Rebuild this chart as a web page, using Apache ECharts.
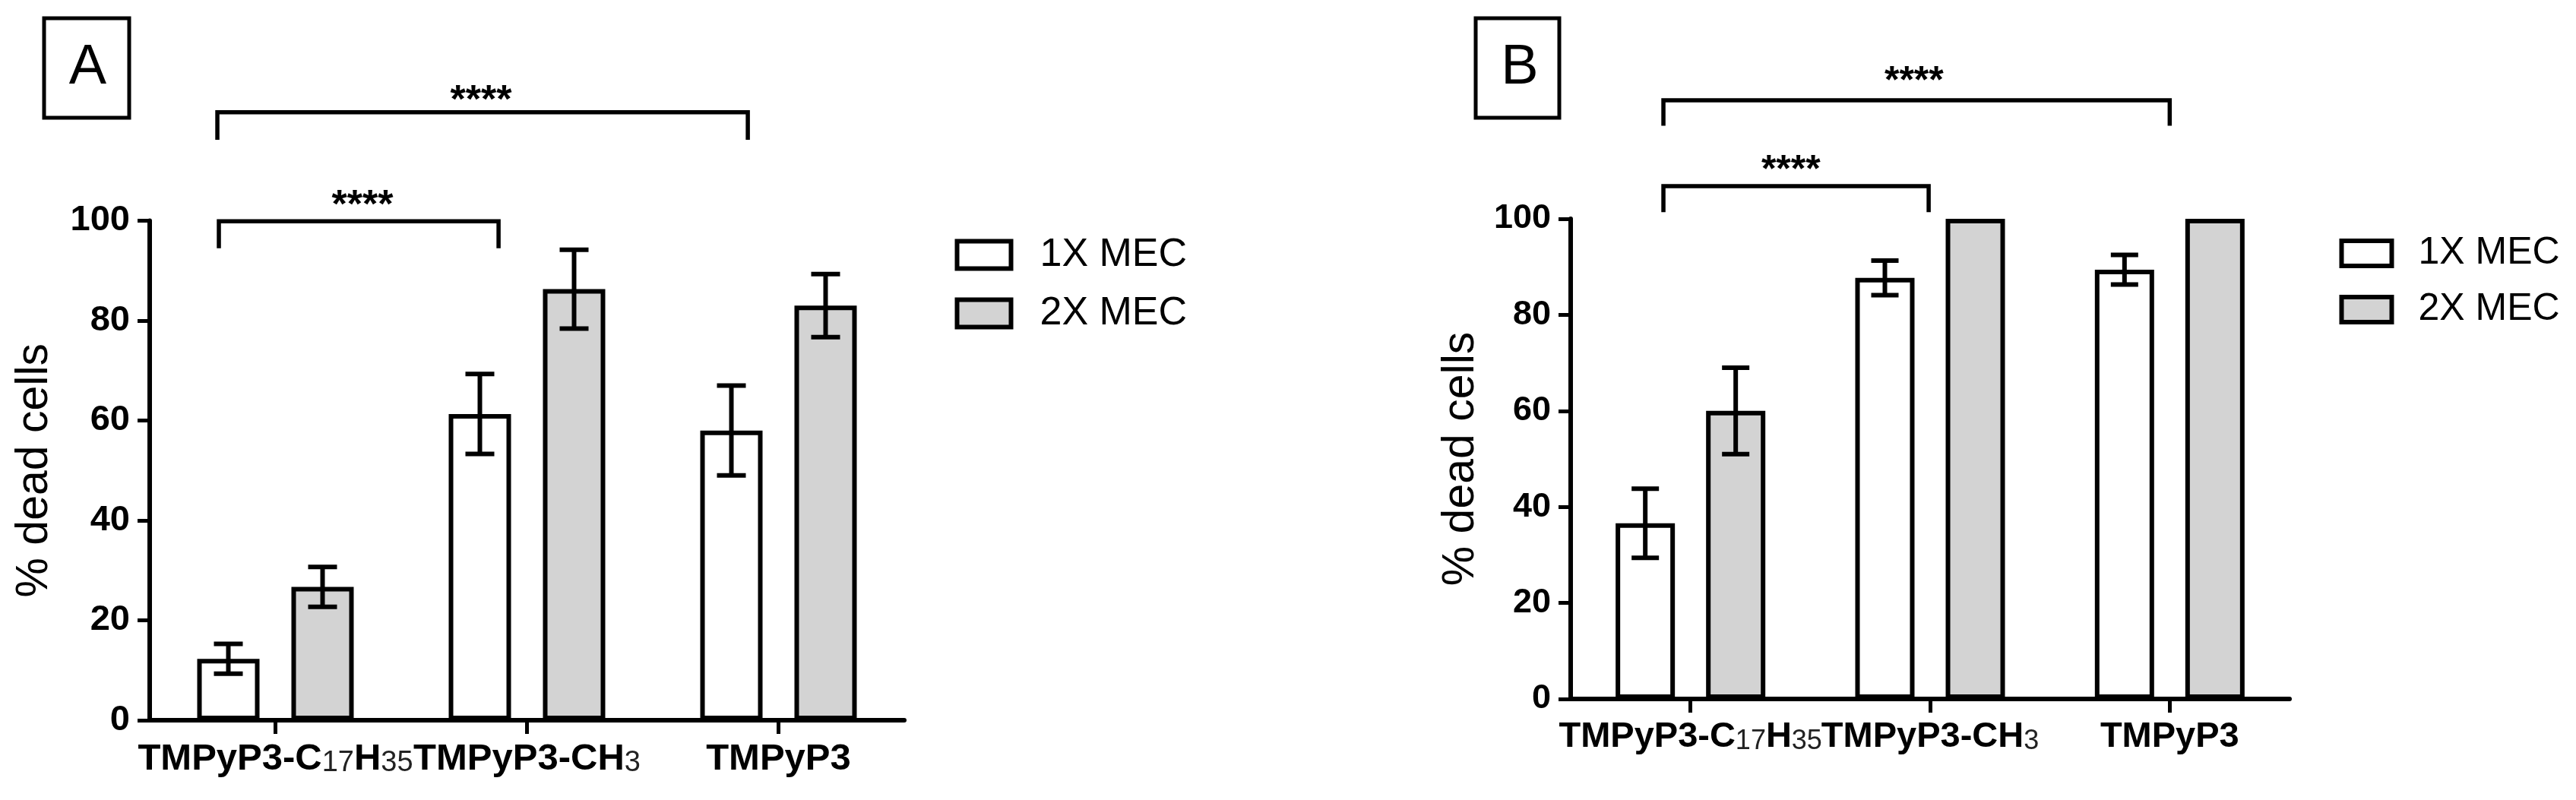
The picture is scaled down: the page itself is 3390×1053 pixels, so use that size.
<!DOCTYPE html>
<html><head><meta charset="utf-8">
<script src="https://cdn.jsdelivr.net/npm/echarts@6/dist/echarts.min.js"></script>
<style>html,body{margin:0;padding:0;background:#fff}#c{width:3390px;height:1053px}</style>
</head><body><div id="c"></div>
<script>
// ---------- data ----------
const categories = ['TMPyP3-C17H35', 'TMPyP3-CH3', 'TMPyP3'];
const seriesNames = ['1X MEC', '2X MEC'];
const yTicks = [0, 20, 40, 60, 80, 100];
const yAxisTitle = '% dead cells';
const panelLetters = ['A', 'B'];
// panel A
const a1X = [12.3, 61.3, 58.0];
const a1Xerr = [3.0, 8.0, 9.0];
const a2X = [26.7, 86.3, 83.0];
const a2Xerr = [4.0, 7.9, 6.3];
// panel B
const b1X = [36.6, 87.7, 89.4];
const b1Xerr = [7.2, 3.6, 3.1];
const b2X = [60.0, 100, 100];
const b2Xerr = [9.0, 0, 0];
// significance brackets: [x start, x end (category units), bar level, leg end]
const aBrackets = [[-0.225, 0.887, 99.9, 94.5], [-0.231, 1.878, 121.7, 116.2]];
const aStars = [[0.346, 104.6, '****'], [0.817, 125.6, '****']];
const bBrackets = [[-0.113, 0.994, 106.8, 101.4], [-0.113, 2.0, 124.7, 119.4]];
const bStars = [[0.419, 111.7, '****'], [0.933, 130.2, '****']];

// ---------- style ----------
const FONT = "'Liberation Sans', Arial, Helvetica, sans-serif";
const NARROW = "'Liberation Sans Narrow', 'Liberation Sans', Arial, sans-serif";
const GRAY = '#d3d3d3';
const LW = 6;
const P = [
  { grid: { left: 197, top: 290.5, width: 993, height: 657.5 }, bw: 82, gap: 42, cap: 38,
    tickFont: 47, labFont: 49, subFont: 38, titleFont: 59, nameGap: 122, starFont: 52,
    legend: { left: 1256.5, top: 309.5, w: 71, h: 36, font: 52, gap: 25, pad: 33 },
    box: { x: 58, y: 24, w: 112, h: 131, cx: 115.5, cy: 90 } },
  { grid: { left: 2067, top: 288, width: 946, height: 632 }, bw: 78, gap: 41, cap: 36,
    tickFont: 45, labFont: 47, subFont: 36, titleFont: 59, nameGap: 115, starFont: 50,
    legend: { left: 3078.5, top: 308.5, w: 66, h: 33, font: 50, gap: 24, pad: 30 },
    box: { x: 1942, y: 24, w: 110, h: 131, cx: 2000, cy: 90 } }
];

function fmtCat(v) {
  let s = '{b|' + v.replace(/([CH])(\d+)/g, '$1}{s|$2}{b|') + '}';
  return s.replace(/\{b\|\}/g, '');
}

const xAxes = [], yAxes = [], grids = [], series = [], legends = [], graphics = [];
const panels = [
  { m1: a1X, e1: a1Xerr, m2: a2X, e2: a2Xerr, br: aBrackets, st: aStars },
  { m1: b1X, e1: b1Xerr, m2: b2X, e2: b2Xerr, br: bBrackets, st: bStars }
];

panels.forEach((pd, k) => {
  const p = P[k];
  grids.push(Object.assign({ outerBoundsMode: 'none', containLabel: false }, p.grid));
  const cx = xAxes.length;
  xAxes.push({
    gridIndex: k, type: 'category', data: categories,
    axisLine: { show: true, onZero: false, lineStyle: { color: '#000', width: LW } },
    axisTick: { show: true, alignWithLabel: true, length: 18, lineStyle: { color: '#000', width: 5 } },
    axisLabel: {
      interval: 0, hideOverlap: false, margin: 27, formatter: fmtCat,
      rich: {
        b: { fontSize: p.labFont, fontWeight: 'bold', fontFamily: FONT, color: '#000', verticalAlign: 'bottom' },
        s: { fontSize: p.subFont, fontWeight: 'normal', fontFamily: NARROW, color: '#222', verticalAlign: 'bottom' }
      }
    },
    splitLine: { show: false }
  });
  const vx = xAxes.length;
  xAxes.push({ gridIndex: k, type: 'value', min: -0.5, max: categories.length - 0.5, show: false,
    axisLine: { onZero: false }, splitLine: { show: false } });
  yAxes.push({
    gridIndex: k, type: 'value', min: yTicks[0], max: yTicks[yTicks.length - 1], interval: yTicks[1] - yTicks[0],
    axisLine: { show: true, onZero: false, lineStyle: { color: '#000', width: LW } },
    axisTick: { show: true, length: 16, lineStyle: { color: '#000', width: 5 } },
    axisLabel: { fontSize: p.tickFont, fontWeight: 'bold', fontFamily: FONT, color: '#000', margin: 26 },
    splitLine: { show: false },
    name: yAxisTitle, nameLocation: 'middle', nameGap: p.nameGap,
    nameTextStyle: { fontSize: p.titleFont, fontFamily: FONT, color: '#000' }
  });
  const off = (p.bw + p.gap) / 2;
  const barGap = (p.gap / p.bw * 100).toFixed(1) + '%';
  series.push({
    name: seriesNames[0], type: 'bar', xAxisIndex: cx, yAxisIndex: k, data: pd.m1,
    barWidth: p.bw, barGap: barGap, z: 2,
    itemStyle: { color: '#fff', borderColor: '#000', borderWidth: LW }
  });
  series.push({
    name: seriesNames[1], type: 'bar', xAxisIndex: cx, yAxisIndex: k, data: pd.m2,
    barWidth: p.bw, barGap: barGap, z: 2,
    itemStyle: { color: GRAY, borderColor: '#000', borderWidth: LW }
  });
  [[pd.m1, pd.e1, -off], [pd.m2, pd.e2, off]].forEach(([m, e, o]) => {
    series.push({
      type: 'custom', xAxisIndex: cx, yAxisIndex: k, z: 5, silent: true,
      data: m.map((v, i) => [i, v, e[i]]),
      renderItem(params, api) {
        const i = api.value(0), v = api.value(1), er = api.value(2);
        const t = api.coord([i, v + er]), b = api.coord([i, v - er]);
        const x = t[0] + o, c = p.cap / 2;
        const st = { stroke: '#000', lineWidth: LW };
        return { type: 'group', children: er ? [
          { type: 'line', shape: { x1: x, y1: t[1], x2: x, y2: b[1] }, style: st },
          { type: 'line', shape: { x1: x - c, y1: t[1], x2: x + c, y2: t[1] }, style: st },
          { type: 'line', shape: { x1: x - c, y1: b[1], x2: x + c, y2: b[1] }, style: st }
        ] : [] };
      }
    });
  });
  series.push({
    type: 'custom', xAxisIndex: vx, yAxisIndex: k, clip: false, silent: true, z: 6,
    data: pd.br,
    renderItem(params, api) {
      const x1 = api.value(0), x2 = api.value(1), y = api.value(2), yl = api.value(3);
      const pts = [api.coord([x1, yl]), api.coord([x1, y]), api.coord([x2, y]), api.coord([x2, yl])];
      return { type: 'polyline', shape: { points: pts }, style: { stroke: '#000', lineWidth: 5.5, fill: null, lineJoin: 'miter' } };
    }
  });
  series.push({
    type: 'custom', xAxisIndex: vx, yAxisIndex: k, clip: false, silent: true, z: 6,
    data: pd.st.map(d => [d[0], d[1]]),
    renderItem(params, api) {
      const d = pd.st[params.dataIndex];
      const pt = api.coord([api.value(0), api.value(1)]);
      return { type: 'text', x: pt[0], y: pt[1] + p.starFont * 0.22,
        style: { text: d[2], fontSize: p.starFont, fontWeight: 'bold', fontFamily: FONT, fill: '#000',
          textAlign: 'center', textVerticalAlign: 'middle' } };
    }
  });
  const L = p.legend;
  legends.push({
    orient: 'vertical', left: L.left, top: L.top, padding: 0, itemWidth: L.w, itemHeight: L.h,
    itemGap: L.gap, icon: 'rect', selectedMode: false, data: seriesNames,
    itemStyle: { borderColor: '#000', borderWidth: LW },
    textStyle: { fontSize: L.font, fontFamily: FONT, color: '#000', padding: [0, 0, 0, L.pad] }
  });
  const B = p.box;
  graphics.push({ type: 'rect', shape: { x: B.x, y: B.y, width: B.w, height: B.h },
    style: { fill: '#fff', stroke: '#000', lineWidth: 5 } });
  graphics.push({ type: 'text', x: B.cx, y: B.cy,
    style: { text: panelLetters[k], fontSize: 74, fontFamily: FONT, fill: '#000', textAlign: 'center', textVerticalAlign: 'middle' } });
});

const chart = echarts.init(document.getElementById('c'), null, { renderer: 'canvas' });
chart.setOption({
  animation: false,
  backgroundColor: '#fff',
  grid: grids, xAxis: xAxes, yAxis: yAxes, series: series, legend: legends,
  graphic: graphics
});
</script></body></html>
